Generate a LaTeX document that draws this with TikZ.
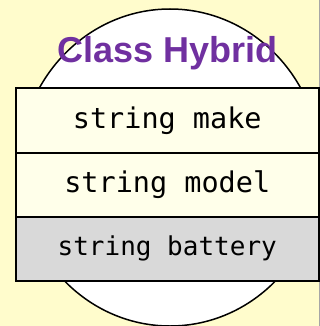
\documentclass[tikz,border=0pt]{standalone}
\usepackage{fontspec}
\newfontfamily\titlefont{Liberation Sans}
\newfontfamily\monof{DejaVu Sans Mono}
\definecolor{bgyellow}{RGB}{255,252,204}
\definecolor{boxyellow}{RGB}{255,255,234}
\definecolor{boxgray}{RGB}{217,217,217}
\definecolor{titlepurple}{RGB}{112,48,160}
\tikzset{
  fieldbox/.style={draw=black, line width=2pt, minimum width=302.5pt, minimum height=64pt, inner sep=0pt, outer sep=0pt, anchor=north west, font=\monof\fontsize{28.5}{30}\selectfont},
}
\begin{document}
\begin{tikzpicture}[x=1pt,y=-1pt]
\useasboundingbox (0,0) rectangle (320,326);
\fill[bgyellow] (0,0) rectangle (320,326);
\draw[gray!70, line width=1pt] (319.5,0) -- (319.5,326);
\begin{scope}
\clip (0,0) rectangle (320,326);
\draw[fill=white, line width=1.5pt] (170,167.5) ellipse [x radius=151, y radius=158.5];
\end{scope}
\node[font=\titlefont\bfseries\fontsize{36}{40}\selectfont, text=titlepurple, anchor=base] (title) at (167.5,63) {Class Hybrid};
\node[fieldbox, fill=boxyellow] (make) at (16,88.5) {string make};
\node[fieldbox, fill=boxyellow] (model) at (16,152.5) {string model};
\node[fieldbox, fill=boxgray, minimum height=64.5pt, font=\monof\fontsize{26}{28}\selectfont] (battery) at (16,216.5) {string battery};
\end{tikzpicture}
\end{document}
